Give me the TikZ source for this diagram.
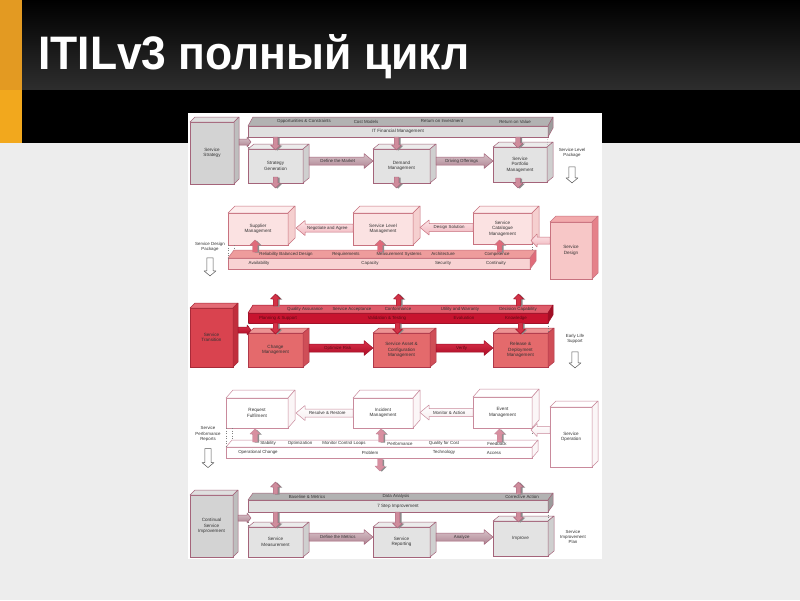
\documentclass[tikz,border=0pt]{standalone}
\usepackage{fontspec}
\usepackage{graphicx}
\setmainfont{Liberation Sans}
\usetikzlibrary{calc}

\definecolor{bggray}{HTML}{EDEDED}
\definecolor{titlegray}{HTML}{2E2E2E}
\definecolor{orA}{HTML}{E39A22}
\definecolor{orB}{HTML}{F2A81D}
\definecolor{txtdark}{HTML}{333333}
\definecolor{txtred}{HTML}{5C0A14}
\definecolor{shadowgray}{HTML}{8C8C8C}
\definecolor{hollowline}{HTML}{555555}

\definecolor{gsfront}{HTML}{D3D3D3}\definecolor{gsside}{HTML}{BEBEBE}\definecolor{gstop}{HTML}{DFDFDF}\definecolor{gsline}{HTML}{A4647A}
\definecolor{gfront}{HTML}{E3E3E3}\definecolor{gside}{HTML}{CFCFCF}\definecolor{gtop}{HTML}{ECECEC}\definecolor{gline}{HTML}{A4647A}
\definecolor{gbfront}{HTML}{E0E0E0}\definecolor{gbside}{HTML}{9C9C9C}\definecolor{gbtop}{HTML}{B2B2B2}\definecolor{gbline}{HTML}{A4647A}
\definecolor{pfront}{HTML}{FBE2E2}\definecolor{pside}{HTML}{F5CFCF}\definecolor{ptop}{HTML}{FDEDED}\definecolor{pline}{HTML}{C8727F}
\definecolor{pbfront}{HTML}{F8D3D3}\definecolor{pbside}{HTML}{E06C7A}\definecolor{pbtop}{HTML}{EE9C9C}\definecolor{pbline}{HTML}{C8727F}
\definecolor{sdfront}{HTML}{F7C7C7}\definecolor{sdside}{HTML}{E5818A}\definecolor{sdtop}{HTML}{F2AAAC}\definecolor{sdline}{HTML}{C8727F}
\definecolor{stfront}{HTML}{D9434F}\definecolor{stside}{HTML}{C02E3C}\definecolor{sttop}{HTML}{E46C76}\definecolor{stline}{HTML}{A82A38}
\definecolor{rfront}{HTML}{E46A6C}\definecolor{rside}{HTML}{CF4E57}\definecolor{rtop}{HTML}{EC9292}\definecolor{rline}{HTML}{B0384A}
\definecolor{rbfront}{HTML}{C8142F}\definecolor{rbside}{HTML}{A00E24}\definecolor{rbtop}{HTML}{DE5C6A}\definecolor{rbline}{HTML}{A01028}
\definecolor{wfront}{HTML}{FFFFFF}\definecolor{wside}{HTML}{FBF6F7}\definecolor{wtop}{HTML}{FFFFFF}\definecolor{wline}{HTML}{C98A9C}

\definecolor{gaT}{HTML}{D8C2C9}\definecolor{gaB}{HTML}{AE8592}\definecolor{gaS}{HTML}{CF8C9C}
\definecolor{paT}{HTML}{FDE6E8}\definecolor{paB}{HTML}{F0B6BE}\definecolor{paS}{HTML}{E06A7A}
\definecolor{raT}{HTML}{DA344C}\definecolor{raB}{HTML}{AC0A24}\definecolor{raS}{HTML}{D23246}
\definecolor{waT}{HTML}{FFFFFF}\definecolor{waB}{HTML}{F6EDEF}\definecolor{waS}{HTML}{D88FA0}

\newcommand{\boxfont}{\fontsize{4.6}{5.5}\selectfont}
\newcommand{\barfont}{\fontsize{4.4}{5.3}\selectfont}
\newcommand{\titlefont}{\fontsize{47}{50}\selectfont\bfseries}

\tikzset{
  cubeface/.style={anchor=north west, inner sep=0pt, outer sep=0pt, align=center,
    font=\boxfont, text=txtdark, line width=0.5pt},
  blabel/.style={font=\barfont, text=txtdark, inner sep=0pt},
  alabel/.style={font=\barfont, text=txtdark, inner sep=0pt},
  sidetext/.style={font=\barfont, text=txtdark, align=center, inner sep=0pt},
  dotl/.style={draw=gray, dotted, line width=0.5pt},
  garrow/.style={top color=gaT, bottom color=gaB, draw=gline, line width=0.5pt, line join=round},
  parrow/.style={top color=paT, bottom color=paB, draw=pline, line width=0.5pt, line join=round},
  rarrow/.style={top color=raT, bottom color=raB, draw=rbline, line width=0.5pt, line join=round},
  warrow/.style={top color=waT, bottom color=waB, draw=wline, line width=0.5pt, line join=round},
  gsmall/.style={fill=gaS, draw=gline, line width=0.4pt, line join=round},
  psmall/.style={fill=paS, draw=pline, line width=0.4pt, line join=round},
  rsmall/.style={fill=raS, draw=rbline, line width=0.4pt, line join=round},
  wsmall/.style={fill=waS, draw=wline, line width=0.4pt, line join=round},
  sshadow/.style={fill=shadowgray, draw=none},
  hollow/.style={fill=white, draw=hollowline, line width=0.5pt, line join=round},
}

% 3D box: name, x, y, w, h, dx, dy, colour prefix, text
\newcommand{\cube}[9]{%
  \node[cubeface, draw=#8line, fill=#8front, minimum width=#4pt, minimum height=#5pt] (#1) at (#2,#3) {#9};
  \filldraw[draw=#8line, fill=#8top, line width=0.5pt, line join=round]
    (#1.north west) -- ++(#6pt,#7pt) -- ++(#4pt,0pt) -- (#1.north east) -- cycle;
  \filldraw[draw=#8line, fill=#8side, line width=0.5pt, line join=round]
    (#1.north east) -- ++(#6pt,#7pt) -- ++(0pt,-#5pt) -- (#1.south east) -- cycle;
}

% block arrow: style, start, end, shaft half width, head half width, head length
\newcommand{\farrow}[6]{%
  \path[#1] let \p1=(#2), \p2=(#3),
    \n1={max(veclen(\x2-\x1,\y2-\y1),0.01)},
    \n2={(\x2-\x1)/\n1}, \n3={(\y2-\y1)/\n1} in
    ({\x1-\n3*#4pt},{\y1+\n2*#4pt})
    -- ({\x2-\n2*#6pt-\n3*#4pt},{\y2-\n3*#6pt+\n2*#4pt})
    -- ({\x2-\n2*#6pt-\n3*#5pt},{\y2-\n3*#6pt+\n2*#5pt})
    -- (\x2,\y2)
    -- ({\x2-\n2*#6pt+\n3*#5pt},{\y2-\n3*#6pt-\n2*#5pt})
    -- ({\x2-\n2*#6pt+\n3*#4pt},{\y2-\n3*#6pt-\n2*#4pt})
    -- ({\x1+\n3*#4pt},{\y1-\n2*#4pt}) -- cycle;}

% small vertical arrow with shadow: style, anchor, dx, from-dy, to-dy
\newcommand{\sarrow}[5]{%
  \farrow{sshadow}{$(#2)+({#3+1.8},{#4+0.6})$}{$(#2)+({#3+1.8},{#5+0.6})$}{2.3}{5}{5}%
  \farrow{#1}{$(#2)+(#3,#4)$}{$(#2)+(#3,#5)$}{2.3}{5}{5}}

\begin{document}
\begin{tikzpicture}[x=1pt,y=-1pt]
\useasboundingbox (0,0) rectangle (800,600);
% slide background
\fill[bggray] (0,0) rectangle (800,600);
\shade[top color=black, bottom color=titlegray] (0,0) rectangle (800,90);
\fill[black] (0,90) rectangle (800,143);
\fill[orA] (0,0) rectangle (22,90);
\fill[orB] (0,90) rectangle (22,143);
\node[anchor=base west, text=white, font=\titlefont, inner sep=0pt] (title) at (38,69) {\scalebox{0.945}[1]{ITILv3 полный цикл}};
\fill[white] (188,113) rectangle (602,559);

% ================= Band 1: Service Strategy =================
\cube{bar1}{248}{126}{300}{11}{5}{9}{gb}{IT Financial Management}
\cube{ss}{190}{122}{44}{62}{5}{5}{gs}{Service\\Strategy}
\cube{sg}{248}{149}{55}{34}{6}{5}{g}{Strategy\\Generation}
\cube{dmd}{373}{149}{57}{34}{6}{5}{g}{Demand\\Management}
\cube{spm}{493}{147}{54}{35}{6}{5}{g}{Service\\Portfolio\\Management}
\node[blabel] (l11) at (304,121.5) {Opportunities \& Constraints};
\node[blabel] (l12) at (366,121.5) {Cost Models};
\node[blabel] (l13) at (442,121.5) {Return on Investment};
\node[blabel] (l14) at (515,121.5) {Return on Value};
\draw[dotl] (bar1.south west) -- (sg.north west);
\draw[dotl] (bar1.south east) -- (spm.north east);
\coordinate (a11s) at ($(ss.north east)+(5,20)$);
\coordinate (a11e) at ($(a11s -| sg.west)+(3,0)$);
\farrow{garrow}{a11s}{a11e}{3}{5}{4}
\coordinate (a12s) at ($(sg.east)+(6,-5)$);
\coordinate (a12e) at (a12s -| dmd.west);
\farrow{garrow}{a12s}{a12e}{4}{7.5}{9}
\node[alabel] (l15) at ($(a12s)!0.45!(a12e)$) {Define the Market};
\coordinate (a13s) at ($(dmd.east)+(6,-5)$);
\coordinate (a13e) at (a13s -| spm.west);
\farrow{garrow}{a13s}{a13e}{4}{7.5}{9}
\node[alabel] (l16) at ($(a13s)!0.45!(a13e)$) {Driving Offerings};
\sarrow{gsmall}{sg.north}{0}{-12}{1}
\sarrow{gsmall}{dmd.north}{-5}{-12}{1}
\sarrow{gsmall}{spm.north}{-2}{-10}{1}
\sarrow{gsmall}{sg.south}{0}{-6}{5}
\sarrow{gsmall}{dmd.south}{-5}{-6}{5}
\sarrow{gsmall}{spm.south}{-2}{-4}{6}
\node[sidetext] (t1) at (572,153) {Service Level\\Package};
\coordinate (h1s) at ($(t1.south)+(0,9)$);
\coordinate (h1e) at ($(t1.south)+(0,25)$);
\farrow{hollow}{h1s}{h1e}{3.2}{6}{5}

% ================= Band 2: Service Design =================
\cube{bar2}{228}{258}{302}{11}{6}{8}{pb}{}
\cube{sup}{228}{213}{60}{32}{7}{7}{p}{Supplier\\Management}
\cube{slm}{353}{213}{60}{32}{7}{7}{p}{Service Level\\Management}
\cube{scm}{473}{213}{59}{31}{7}{7}{p}{Service\\Catalogue\\Management}
\cube{sd}{550}{222}{42}{57}{6}{6}{sd}{Service\\Design}
\node[blabel] (l21) at (286,254) {Reliability Balanced Design};
\node[blabel] (l22) at (346,254) {Requirements};
\node[blabel] (l23) at (399,254) {Measurement Systems};
\node[blabel] (l24) at (443,254) {Architecture};
\node[blabel] (l25) at (497,254) {Competence};
\node[blabel] (l26) at (259,263.5) {Availability};
\node[blabel] (l27) at (370,263.5) {Capacity};
\node[blabel] (l28) at (443,263.5) {Security};
\node[blabel] (l29) at (496,263.5) {Continuity};
\draw[dotl] (sup.south west) -- (bar2.north west);
\draw[dotl] ($(sup.south west)+(6,0)$) -- ($(bar2.north west)+(6,-8)$);
\draw[dotl] (scm.south east) -- ++(0,6);
\coordinate (a21s) at ($(slm.west)+(0,-1)$);
\coordinate (a21e) at ($(a21s -| sup.east)+(8,0)$);
\farrow{parrow}{a21s}{a21e}{4}{7.5}{9}
\node[alabel] (l2a) at ($(a21s)!0.45!(a21e)$) {Negotiate and Agree};
\coordinate (a22s) at ($(scm.west)+(0,-1)$);
\coordinate (a22e) at ($(a22s -| slm.east)+(7,0)$);
\farrow{parrow}{a22s}{a22e}{4}{7.5}{9}
\node[alabel] (l2b) at ($(a22s)!0.45!(a22e)$) {Design Solution};
\coordinate (a23s) at ($(sd.west)+(0,-10)$);
\coordinate (a23e) at ($(a23s -| scm.east)+(-1,0)$);
\farrow{parrow}{a23s}{a23e}{3.5}{6.5}{6}
\sarrow{psmall}{sup.south}{-3}{7}{-5}
\sarrow{psmall}{slm.south}{-3}{7}{-5}
\sarrow{psmall}{scm.south}{-3}{8}{-4}
\node[sidetext] (t2) at (210,247) {Service Design\\Package};
\coordinate (h2s) at ($(t2.south)+(0,6)$);
\coordinate (h2e) at ($(t2.south)+(0,24)$);
\farrow{hollow}{h2s}{h2e}{3.2}{6}{5}

% ================= Band 3: Service Transition =================
\cube{bar3}{248}{313}{300}{10}{5}{8}{rb}{}
\cube{st}{190}{308}{43}{59}{5}{5}{st}{Service\\Transition}
\cube{cm}{248}{333}{55}{34}{6}{5}{r}{Change\\Management}
\cube{sacm}{373}{333}{57}{34}{6}{5}{r}{Service Asset \&\\Configuration\\Management}
\cube{rdm}{493}{333}{55}{34}{6}{5}{r}{Release \&\\Deployment\\Management}
\node[blabel] (l31) at (305,309) {Quality Assurance};
\node[blabel] (l32) at (352,309) {Service Acceptance};
\node[blabel] (l33) at (398,309) {Conformance};
\node[blabel] (l34) at (460,309) {Utility and Warranty};
\node[blabel] (l35) at (518,309) {Decision Capability};
\node[blabel, text=txtred] (l36) at (278,318) {Planning \& Support};
\node[blabel, text=txtred] (l37) at (387,318) {Validation \& Testing};
\node[blabel, text=txtred] (l38) at (464,318) {Evaluation};
\node[blabel, text=txtred] (l39) at (516,318) {Knowledge};
\draw[dotl] (bar3.south west) -- (cm.north west);
\draw[dotl] (bar3.south east) -- (rdm.north east);
\coordinate (a31s) at ($(st.north east)+(5,22)$);
\coordinate (a31e) at ($(a31s -| cm.west)+(3,0)$);
\farrow{rarrow}{a31s}{a31e}{3}{5}{4}
\coordinate (a32s) at ($(cm.east)+(6,-2)$);
\coordinate (a32e) at (a32s -| sacm.west);
\farrow{rarrow}{a32s}{a32e}{4}{7.5}{9}
\node[alabel, text=txtred] (l3a) at ($(a32s)!0.45!(a32e)$) {Optimize Risk};
\coordinate (a33s) at ($(sacm.east)+(6,-2)$);
\coordinate (a33e) at (a33s -| rdm.west);
\farrow{rarrow}{a33s}{a33e}{4}{7.5}{9}
\node[alabel, text=txtred] (l3b) at ($(a33s)!0.45!(a33e)$) {Verify};
\sarrow{rsmall}{cm.north}{0}{-27}{-39}
\sarrow{rsmall}{sacm.north}{-3}{-27}{-39}
\sarrow{rsmall}{rdm.north}{-2}{-27}{-39}
\sarrow{rsmall}{cm.north}{0}{-10}{1}
\sarrow{rsmall}{sacm.north}{-4}{-10}{1}
\sarrow{rsmall}{rdm.north}{0}{-10}{1}
\node[sidetext] (t3) at (575,339) {Early Life\\Support};
\coordinate (h3s) at ($(t3.south)+(0,8)$);
\coordinate (h3e) at ($(t3.south)+(0,24)$);
\farrow{hollow}{h3s}{h3e}{3.2}{6}{5}

% ================= Band 4: Service Operation =================
\cube{bar4}{226}{447}{306}{11}{6}{7}{w}{}
\cube{rf}{226}{398}{62}{30}{7}{8}{w}{Request\\Fulfilment}
\cube{im}{353}{398}{60}{30}{7}{8}{w}{Incident\\Management}
\cube{em}{473}{397}{59}{31}{7}{8}{w}{Event\\Management}
\cube{so}{550}{407}{42}{60}{6}{6}{w}{Service\\Operation}
\node[blabel] (l41) at (268,443.5) {Stability};
\node[blabel] (l42) at (300,443.5) {Optimization};
\node[blabel] (l43) at (344,443.5) {Monitor Control Loops};
\node[blabel] (l44) at (400,443.5) {Performance};
\node[blabel] (l45) at (444,443.5) {Quality for Cost};
\node[blabel] (l46) at (497,443.5) {Feedback};
\node[blabel] (l47) at (258,452.5) {Operational Change};
\node[blabel] (l48) at (370,452.5) {Problem};
\node[blabel] (l49) at (444,452.5) {Technology};
\node[blabel] (l4x) at (494,452.5) {Access};
\draw[dotl] (rf.south west) -- (bar4.north west);
\draw[dotl] ($(rf.south west)+(6,0)$) -- ($(bar4.north west)+(6,-7)$);
\draw[dotl] (em.south east) -- ++(0,6);
\coordinate (a41s) at (im.west);
\coordinate (a41e) at ($(a41s -| rf.east)+(8,0)$);
\farrow{warrow}{a41s}{a41e}{4}{7.5}{9}
\node[alabel] (l4a) at ($(a41s)!0.45!(a41e)$) {Resolve \& Restore};
\coordinate (a42s) at (em.west);
\coordinate (a42e) at ($(a42s -| im.east)+(7,0)$);
\farrow{warrow}{a42s}{a42e}{4}{7.5}{9}
\node[alabel] (l4b) at ($(a42s)!0.45!(a42e)$) {Monitor \& Action};
\coordinate (a43s) at ($(so.west)+(0,-7)$);
\coordinate (a43e) at ($(a43s -| em.east)+(-1,0)$);
\farrow{warrow}{a43s}{a43e}{3.5}{6.5}{6}
\sarrow{wsmall}{rf.south}{-2}{14}{1}
\sarrow{wsmall}{im.south}{-2}{14}{1}
\sarrow{wsmall}{em.south}{-3}{14}{1}
\sarrow{wsmall}{im.south}{-3}{31}{43}
\node[sidetext] (t4) at (208,434) {Service\\Performance\\Reports};
\coordinate (h4s) at ($(t4.south)+(0,7)$);
\coordinate (h4e) at ($(t4.south)+(0,26)$);
\farrow{hollow}{h4s}{h4e}{3.2}{6}{5}

% ================= Band 5: Continual Service Improvement =================
\cube{bar5}{248}{500}{300}{12}{5}{7}{gb}{7 Step Improvement}
\cube{csi}{190}{495}{43}{62}{5}{5}{gs}{Continual\\Service\\Improvement}
\cube{smeas}{248}{527}{55}{30}{6}{5}{g}{Service\\Measurement}
\cube{srep}{373}{527}{57}{30}{6}{5}{g}{Service\\Reporting}
\cube{imp}{493}{521}{55}{35}{6}{5}{g}{Improve}
\node[blabel] (l51) at (307,496.5) {Baseline \& Metrics};
\node[blabel] (l52) at (396,496.5) {Data Analysis};
\node[blabel] (l53) at (522,496.5) {Corrective Action};
\draw[dotl] (bar5.south west) -- (smeas.north west);
\draw[dotl] (bar5.south east) -- (imp.north east);
\coordinate (a51s) at ($(csi.north east)+(5,23)$);
\coordinate (a51e) at ($(a51s -| smeas.west)+(3,0)$);
\farrow{garrow}{a51s}{a51e}{3}{5}{4}
\coordinate (a52s) at ($(smeas.east)+(6,-5)$);
\coordinate (a52e) at (a52s -| srep.west);
\farrow{garrow}{a52s}{a52e}{4}{7.5}{9}
\node[alabel] (l5a) at ($(a52s)!0.45!(a52e)$) {Define the Metrics};
\coordinate (a53s) at ($(srep.east)+(6,-5)$);
\coordinate (a53e) at (a53s -| imp.west);
\farrow{garrow}{a53s}{a53e}{4}{7.5}{9}
\node[alabel] (l5b) at ($(a53s)!0.45!(a53e)$) {Analyze};
\sarrow{gsmall}{smeas.north}{0}{-33}{-45}
\sarrow{gsmall}{imp.north}{-2}{-27}{-39}
\sarrow{gsmall}{smeas.north}{0}{-15}{1}
\sarrow{gsmall}{srep.north}{-4}{-15}{1}
\sarrow{gsmall}{imp.north}{-2}{-9}{1}
\node[sidetext] (t5) at (573,537) {Service\\Improvement\\Plan};
\end{tikzpicture}
\end{document}
